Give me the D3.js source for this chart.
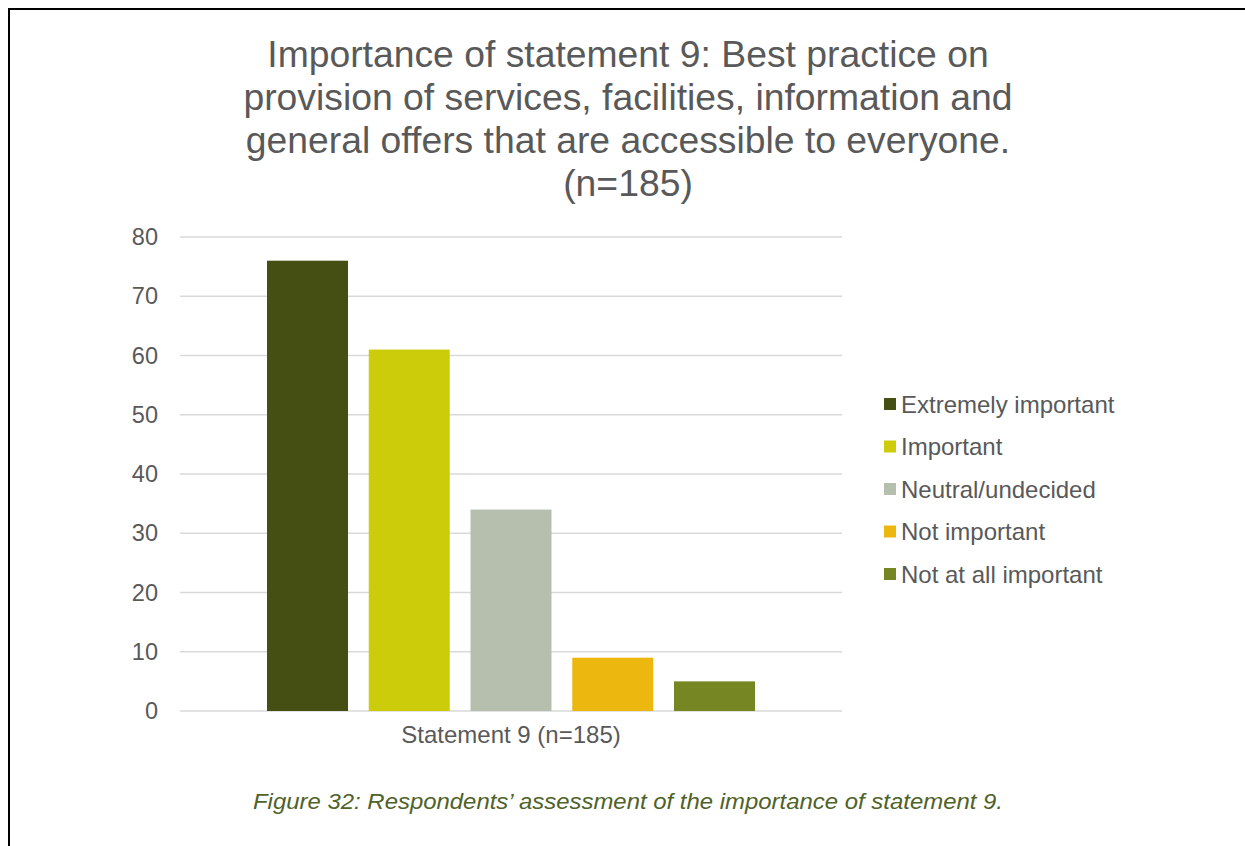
<!DOCTYPE html>
<html>
<head>
<meta charset="utf-8">
<script src="https://cdn.jsdelivr.net/npm/d3@7"></script>
<style>
  html, body { margin: 0; padding: 0; background: #ffffff; }
  svg { display: block; }
  text { font-family: "Liberation Sans", Arial, sans-serif; }
</style>
</head>
<body>
<svg id="chart" width="1245" height="846"></svg>
<script>
// Survey responses for statement 9
const categories = ["Extremely important", "Important", "Neutral/undecided", "Not important", "Not at all important"];
const counts = [76, 61, 34, 9, 5];
const colors = ["#454f14", "#cccc0a", "#b6bfae", "#ecb810", "#758623"];
const yTicks = [0, 10, 20, 30, 40, 50, 60, 70, 80];
const titleLines = [
  "Importance of statement 9: Best practice on",
  "provision of services, facilities, information and",
  "general offers that are accessible to everyone.",
  "(n=185)"
];
const axisLabel = "Statement 9 (n=185)";
const caption = "Figure 32: Respondents\u2019 assessment of the importance of statement 9.";

const svg = d3.select("#chart");
const W = 1245, H = 846;

// page frame (top and left rules)
svg.append("line").attr("x1", 8).attr("x2", W).attr("y1", 9).attr("y2", 9)
  .attr("stroke", "#000").attr("stroke-width", 2);
svg.append("line").attr("x1", 9).attr("x2", 9).attr("y1", 8).attr("y2", H)
  .attr("stroke", "#000").attr("stroke-width", 2);

// plot area
const plot = { left: 180, right: 842, top: 237, bottom: 711 };

const x = d3.scaleBand()
  .domain(categories)
  .range([plot.left, plot.right])
  .paddingInner(0.204)
  .paddingOuter(0.855);

const y = d3.scaleLinear()
  .domain([0, 80])
  .range([plot.bottom, plot.top]);

// gridlines
svg.append("g")
  .selectAll("line")
  .data(yTicks)
  .join("line")
  .attr("x1", plot.left).attr("x2", plot.right)
  .attr("y1", d => y(d)).attr("y2", d => y(d))
  .attr("stroke", "#d9d9d9").attr("stroke-width", 1.5);

// y axis labels
const yAxis = svg.append("g")
  .attr("transform", `translate(${plot.left - 8},0)`)
  .call(d3.axisLeft(y).tickValues(yTicks).tickSize(0).tickPadding(14));
yAxis.select(".domain").remove();
yAxis.selectAll("text")
  .attr("fill", "#595959")
  .style("font-size", "23.5px")
  .style("font-family", "'Liberation Sans', Arial, sans-serif");

// bars
svg.append("g")
  .selectAll("rect")
  .data(categories)
  .join("rect")
  .attr("x", d => x(d))
  .attr("width", x.bandwidth())
  .attr("y", (d, i) => y(counts[i]))
  .attr("height", (d, i) => y(0) - y(counts[i]))
  .attr("fill", (d, i) => colors[i]);

// category label under the axis
svg.append("text")
  .attr("x", (plot.left + plot.right) / 2)
  .attr("y", 743)
  .attr("text-anchor", "middle")
  .attr("fill", "#595959")
  .style("font-size", "24px")
  .text(axisLabel);

// title
svg.append("g")
  .selectAll("text")
  .data(titleLines)
  .join("text")
  .attr("x", 628)
  .attr("y", (d, i) => 67 + i * 43)
  .attr("text-anchor", "middle")
  .attr("fill", "#595959")
  .style("font-size", "37.3px")
  .text(d => d);

// legend
const legend = svg.append("g");
const rows = legend.selectAll("g")
  .data(categories)
  .join("g")
  .attr("transform", (d, i) => `translate(884,${404 + i * 42.5})`);
rows.append("rect")
  .attr("x", 0).attr("y", -6)
  .attr("width", 12).attr("height", 12)
  .attr("fill", (d, i) => colors[i]);
rows.append("text")
  .attr("x", 17).attr("y", 8.5)
  .attr("fill", "#595959")
  .style("font-size", "24px")
  .text(d => d);

// figure caption
svg.append("text")
  .attr("x", 628)
  .attr("y", 809)
  .attr("text-anchor", "middle")
  .attr("fill", "#4f6228")
  .attr("textLength", 750)
  .attr("lengthAdjust", "spacingAndGlyphs")
  .style("font-size", "22px")
  .style("font-style", "italic")
  .text(caption);
</script>
</body>
</html>
